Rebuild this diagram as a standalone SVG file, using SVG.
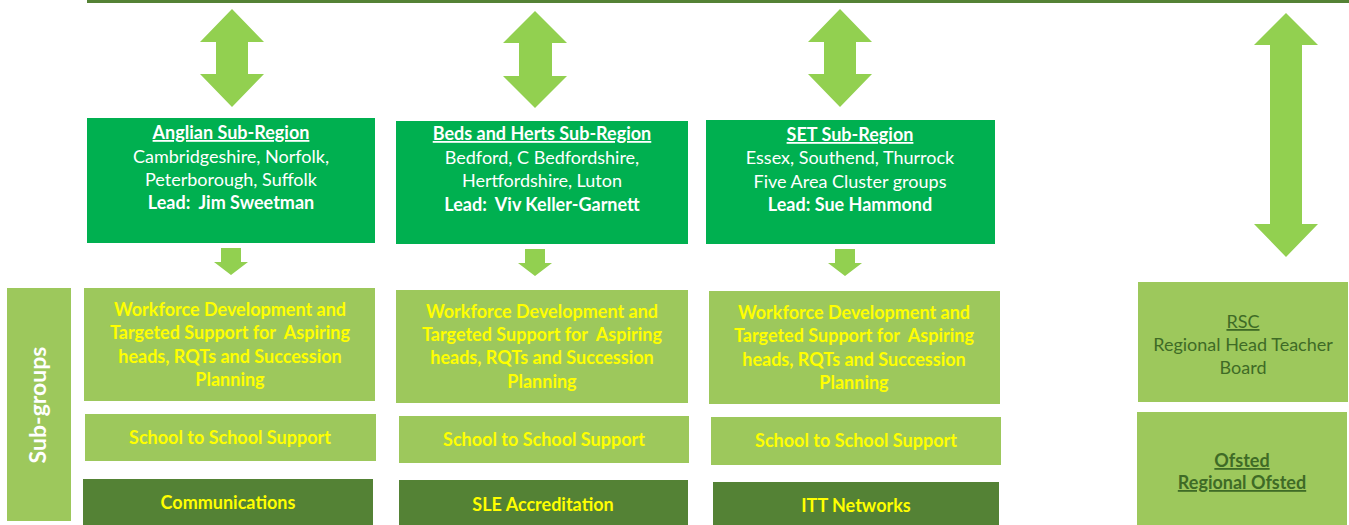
<svg xmlns="http://www.w3.org/2000/svg" width="1349" height="525" viewBox="0 0 1349 525" xml:space="preserve">
<style>
text{font-family:Lato,"Open Sans","Liberation Sans",sans-serif;text-anchor:middle;font-size:18px;white-space:pre}
.reg{fill:#00B050}
.lt{fill:#9DC85C}
.dk{fill:#548235}
.arr{fill:#92D050}
.w{fill:#FFFFFF}
.y{fill:#FFFF00;font-weight:bold}
.b{font-weight:bold}
.u{text-decoration:underline}
.g{fill:#3F6B26}
</style>
<rect x="87" y="0" width="1262" height="3" fill="#548235"/>
<g id="connectors">
<polygon class="arr" points="232,9 264,42 248,42 248,74 264,74 232,107 200,74 216,74 216,42 200,42"/>
<polygon class="arr" points="535,11 567,43 552,43 552,76 567,76 535,108 503,76 519,76 519,43 503,43"/>
<polygon class="arr" points="840,9 872,42 856,42 856,74 872,74 840,107 808,74 824,74 824,42 808,42"/>
<polygon class="arr" points="1286,13 1318,45 1302,45 1302,224 1318,224 1286,257 1254,224 1270,224 1270,45 1254,45"/>
<polygon class="arr" points="221,248 241,248 241,262 248,262 231,275 214,262 221,262"/>
<polygon class="arr" points="525,249 545,249 545,263 552,263 535,276 518,263 525,263"/>
<polygon class="arr" points="835,249 855,249 855,263 862,263 845,276 828,263 835,263"/>
</g>
<g id="anglian">
<rect class="reg" x="87" y="118" width="288" height="125"/>
<text x="231" y="139" class="w b u">Anglian Sub-Region</text>
<text x="231" y="163" class="w">Cambridgeshire, Norfolk,</text>
<text x="231" y="186" class="w">Peterborough, Suffolk</text>
<text x="231" y="209" class="w b">Lead:  Jim Sweetman</text>
</g>
<g id="bedsherts">
<rect class="reg" x="396" y="121" width="292" height="123"/>
<text x="542" y="140" class="w b u">Beds and Herts Sub-Region</text>
<text x="542" y="164" class="w">Bedford, C Bedfordshire,</text>
<text x="542" y="187" class="w">Hertfordshire, Luton</text>
<text x="542" y="211" class="w b">Lead:  Viv Keller-Garnett</text>
</g>
<g id="set">
<rect class="reg" x="706" y="120" width="289" height="124"/>
<text x="850" y="141" class="w b u">SET Sub-Region</text>
<text x="850" y="164" class="w">Essex, Southend, Thurrock</text>
<text x="850" y="188" class="w">Five Area Cluster groups</text>
<text x="850" y="211" class="w b">Lead: Sue Hammond</text>
</g>
<g id="subgroups">
<rect class="lt" x="7" y="288" width="64" height="233"/>
<text transform="translate(46,405) rotate(-90)" class="w b" style="font-size:23px">Sub-groups</text>
</g>
<g id="wf1">
<rect class="lt" x="84" y="288" width="291" height="113"/>
<text x="230" y="316" class="y">Workforce Development and</text>
<text x="230" y="339" class="y">Targeted Support for  Aspiring</text>
<text x="230" y="363" class="y">heads, RQTs and Succession</text>
<text x="230" y="386" class="y">Planning</text>
</g>
<g id="wf2">
<rect class="lt" x="396" y="290" width="292" height="113"/>
<text x="542" y="318" class="y">Workforce Development and</text>
<text x="542" y="341" class="y">Targeted Support for  Aspiring</text>
<text x="542" y="364" class="y">heads, RQTs and Succession</text>
<text x="542" y="388" class="y">Planning</text>
</g>
<g id="wf3">
<rect class="lt" x="709" y="291" width="291" height="113"/>
<text x="854" y="319" class="y">Workforce Development and</text>
<text x="854" y="342" class="y">Targeted Support for  Aspiring</text>
<text x="854" y="366" class="y">heads, RQTs and Succession</text>
<text x="854" y="389" class="y">Planning</text>
</g>
<g id="s2s1">
<rect class="lt" x="85" y="414" width="291" height="47"/>
<text x="230" y="444" class="y">School to School Support</text>
</g>
<g id="s2s2">
<rect class="lt" x="399" y="416" width="290" height="47"/>
<text x="544" y="446" class="y">School to School Support</text>
</g>
<g id="s2s3">
<rect class="lt" x="711" y="417" width="290" height="48"/>
<text x="856" y="447" class="y">School to School Support</text>
</g>
<g id="comms">
<rect class="dk" x="83" y="479" width="290" height="46"/>
<text x="228" y="509" class="y">Communications</text>
</g>
<g id="sle">
<rect class="dk" x="399" y="480" width="289" height="45"/>
<text x="543" y="511" class="y">SLE Accreditation</text>
</g>
<g id="itt">
<rect class="dk" x="713" y="482" width="286" height="43"/>
<text x="856" y="512" class="y">ITT Networks</text>
</g>
<g id="rsc">
<rect class="lt" x="1138" y="282" width="210" height="120"/>
<text x="1243" y="328" class="g u">RSC</text>
<text x="1243" y="351" class="g">Regional Head Teacher</text>
<text x="1243" y="374" class="g">Board</text>
</g>
<g id="ofsted">
<rect class="lt" x="1137" y="412" width="210" height="113"/>
<text x="1242" y="467" class="g b u">Ofsted</text>
<text x="1242" y="489" class="g b u">Regional Ofsted</text>
</g>
</svg>
